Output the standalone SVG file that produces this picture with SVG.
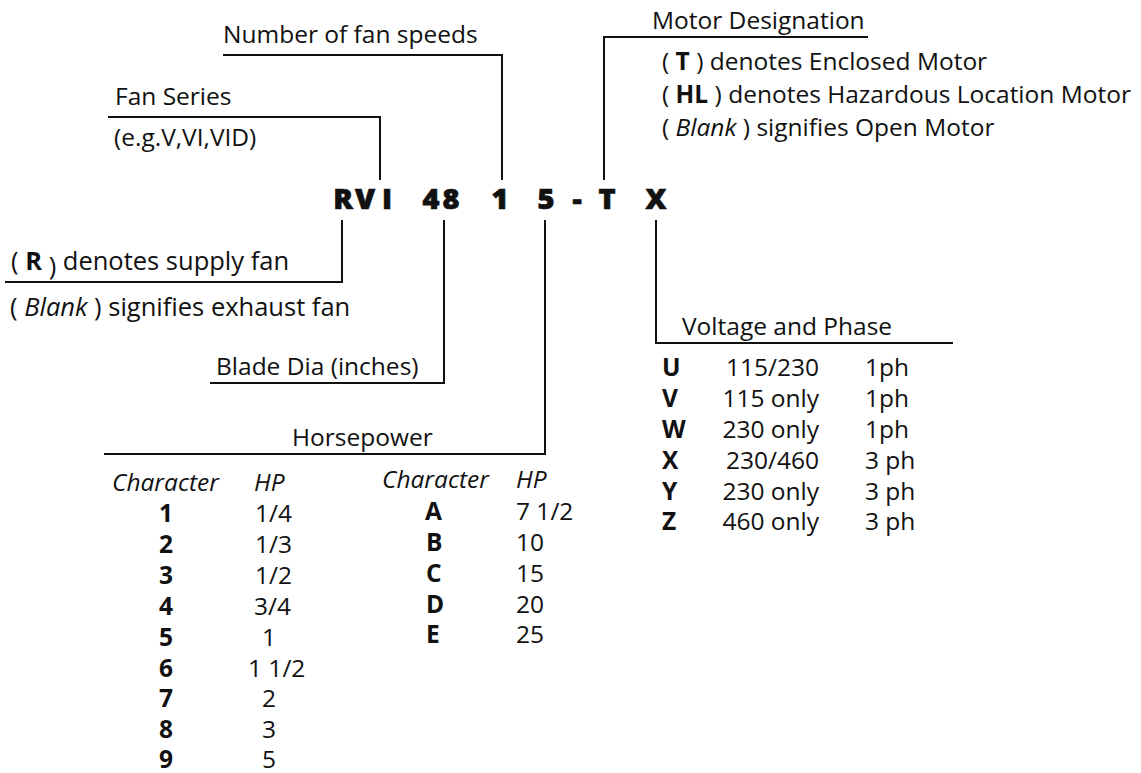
<svg xmlns="http://www.w3.org/2000/svg" width="1141" height="773" viewBox="0 0 1141 773">
<style>
text{font-family:"Open Sans","Noto Sans","DejaVu Sans",sans-serif;font-size:24.5px;fill:#111}
.b{font-weight:700}
.i{font-style:italic}
.s{font-size:25.5px}
.code{font-size:29px;font-weight:800;text-anchor:middle;stroke:#111;stroke-width:0.7}
.m{text-anchor:middle}
.e{text-anchor:end}
.ln{fill:none;stroke:#111;stroke-width:2}
</style>
<rect width="1141" height="773" fill="#fff"/>
<g id="connectors">
<polyline class="ln" points="223,55 502,55 502,180"/>
<polyline class="ln" points="108,117 380,117 380,180"/>
<polyline class="ln" points="868,37 604,37 604,180"/>
<polyline class="ln" points="342,220 342,282 5,282"/>
<polyline class="ln" points="444,220 444,383 210,383"/>
<polyline class="ln" points="545,220 545,454 104,454"/>
<polyline class="ln" points="656,220 656,343 953,343"/>
</g>
<g id="code">
<text class="code" x="343" y="209">R</text>
<text class="code" x="365" y="209">V</text>
<text class="code" x="387" y="209">I</text>
<text class="code" x="431" y="209">4</text>
<text class="code" x="451" y="209">8</text>
<text class="code" x="500" y="209">1</text>
<text class="code" x="546" y="209">5</text>
<text class="code" x="577" y="209">-</text>
<text class="code" x="607" y="209">T</text>
<text class="code" x="656" y="209">X</text>
</g>
<g id="fan-speeds"><text x="223" y="43">Number of fan speeds</text></g>
<g id="fan-series">
<text x="115" y="105">Fan Series</text>
<text x="114" y="146">(e.g.V,VI,VID)</text>
</g>
<g id="motor-designation">
<text x="652" y="29">Motor Designation</text>
<text x="662" y="70">( <tspan class="b">T</tspan> ) denotes Enclosed Motor</text>
<text x="662" y="103">( <tspan class="b">HL</tspan> ) denotes Hazardous Location Motor</text>
<text x="662" y="136">( <tspan class="i">Blank</tspan> ) signifies Open Motor</text>
</g>
<g id="supply">
<text class="s" x="11" y="270">( <tspan class="b">R</tspan> <tspan dy="5">)</tspan> <tspan dy="-5">denotes supply fan</tspan></text>
<text class="s" x="10" y="316">( <tspan class="i">Blank</tspan> ) signifies exhaust fan</text>
</g>
<g id="blade-dia"><text x="216" y="375">Blade Dia (inches)</text></g>
<g id="horsepower">
<text x="292" y="446">Horsepower</text>
<text class="i" x="112" y="491">Character</text>
<text class="i" x="254" y="491">HP</text>
<text class="i" x="382" y="488">Character</text>
<text class="i" x="516" y="488">HP</text>
<g class="b m">
<text x="166" y="522">1</text>
<text x="166" y="553">2</text>
<text x="166" y="584">3</text>
<text x="166" y="615">4</text>
<text x="166" y="646">5</text>
<text x="166" y="677">6</text>
<text x="166" y="707">7</text>
<text x="166" y="738">8</text>
<text x="166" y="768">9</text>
</g>
<text x="255" y="522">1/4</text>
<text x="255" y="553">1/3</text>
<text x="255" y="584">1/2</text>
<text x="254" y="615">3/4</text>
<text x="262" y="646">1</text>
<text x="248" y="677">1 1/2</text>
<text x="262" y="707">2</text>
<text x="262" y="738">3</text>
<text x="262" y="768">5</text>
<g class="b">
<text x="425" y="520">A</text>
<text x="426" y="551">B</text>
<text x="426" y="582">C</text>
<text x="426" y="613">D</text>
<text x="426" y="643">E</text>
</g>
<text x="516" y="520">7 1/2</text>
<text x="516" y="551">10</text>
<text x="516" y="582">15</text>
<text x="516" y="613">20</text>
<text x="516" y="643">25</text>
</g>
<g id="voltage-phase">
<text x="682" y="335">Voltage and Phase</text>
<g class="b">
<text x="662" y="376">U</text>
<text x="662" y="407">V</text>
<text x="662" y="438">W</text>
<text x="662" y="469">X</text>
<text x="662" y="500">Y</text>
<text x="662" y="530">Z</text>
</g>
<g class="e">
<text x="819" y="376">115/230</text>
<text x="819" y="407">115 only</text>
<text x="819" y="438">230 only</text>
<text x="819" y="469">230/460</text>
<text x="819" y="500">230 only</text>
<text x="819" y="530">460 only</text>
</g>
<text x="865" y="376">1ph</text>
<text x="865" y="407">1ph</text>
<text x="865" y="438">1ph</text>
<text x="865" y="469">3 ph</text>
<text x="865" y="500">3 ph</text>
<text x="865" y="530">3 ph</text>
</g>
</svg>
